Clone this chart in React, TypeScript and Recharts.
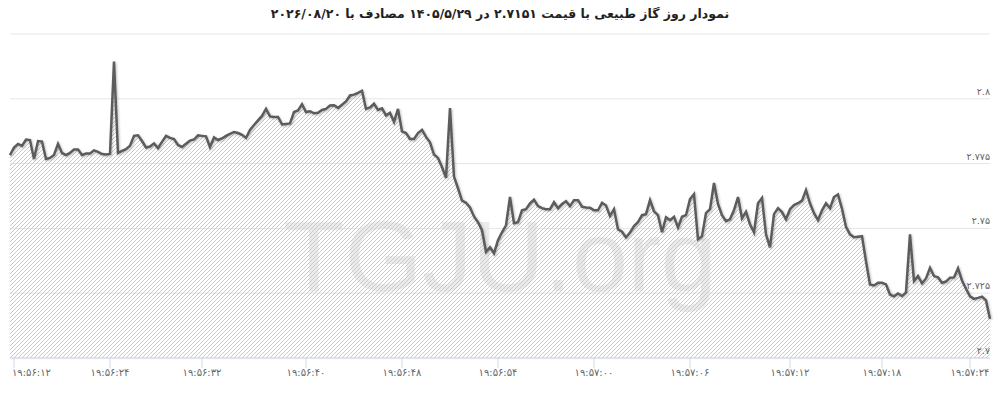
import React from 'react';
import { ComposedChart, Area, Line, XAxis, YAxis, CartesianGrid } from 'recharts';

const titleText = 'نمودار روز گاز طبیعی با قیمت ۲.۷۱۵۱ در ۱۴۰۵/۵/۲۹ مصادف با ۲۰۲۶/۰۸/۲۰';

// price samples, read left to right off the chart
const prices = [
  2.7783, 2.7812, 2.7826, 2.7818, 2.7843, 2.7841, 2.7768, 2.7837, 2.7835, 2.7768,
  2.7772, 2.7783, 2.7826, 2.7791, 2.7783, 2.7791, 2.7804, 2.7804, 2.7783, 2.7789,
  2.7789, 2.7801, 2.7795, 2.7787, 2.7785, 2.7787, 2.8144, 2.7791, 2.7799, 2.7806,
  2.7819, 2.7857, 2.7859, 2.7837, 2.7812, 2.7816, 2.7828, 2.7810, 2.7834, 2.7857,
  2.7849, 2.7845, 2.7822, 2.7814, 2.7827, 2.7839, 2.7843, 2.7859, 2.7857, 2.7855,
  2.7814, 2.7851, 2.7841, 2.7847, 2.7857, 2.7865, 2.7872, 2.7868, 2.7861, 2.7849,
  2.7880, 2.7899, 2.7917, 2.7934, 2.7961, 2.7932, 2.7930, 2.7930, 2.7901, 2.7903,
  2.7905, 2.7949, 2.7955, 2.7979, 2.7949, 2.7952, 2.7944, 2.7946, 2.7957, 2.7961,
  2.7974, 2.7975, 2.7965, 2.7977, 2.7990, 2.8013, 2.8016, 2.8023, 2.8031, 2.7961,
  2.7967, 2.7981, 2.7957, 2.7963, 2.7936, 2.7946, 2.7911, 2.7961, 2.7874, 2.7868,
  2.7845, 2.7845, 2.7868, 2.7880, 2.7853, 2.7832, 2.7785, 2.7772, 2.7737, 2.7695,
  2.7964, 2.7700, 2.7655, 2.7607, 2.7599, 2.7581, 2.7546, 2.7524, 2.7493, 2.7410,
  2.7427, 2.7404, 2.7454, 2.7485, 2.7512, 2.7621, 2.7520, 2.7524, 2.7570, 2.7574,
  2.7597, 2.7611, 2.7586, 2.7578, 2.7574, 2.7574, 2.7601, 2.7578, 2.7594, 2.7605,
  2.7586, 2.7609, 2.7609, 2.7584, 2.7581, 2.7580, 2.7570, 2.7570, 2.7599, 2.7588,
  2.7548, 2.7574, 2.7497, 2.7487, 2.7465, 2.7484, 2.7509, 2.7524, 2.7551, 2.7555,
  2.7609, 2.7566, 2.7551, 2.7485, 2.7543, 2.7532, 2.7545, 2.7504, 2.7545, 2.7551,
  2.7613, 2.7632, 2.7458, 2.7470, 2.7559, 2.7574, 2.7675, 2.7594, 2.7551, 2.7528,
  2.7535, 2.7571, 2.7621, 2.7539, 2.7564, 2.7516, 2.7485, 2.7597, 2.7617, 2.7477,
  2.7427, 2.7555, 2.7578, 2.7563, 2.7535, 2.7574, 2.7590, 2.7597, 2.7607, 2.7648,
  2.7597, 2.7559, 2.7532, 2.7570, 2.7597, 2.7578, 2.7621, 2.7631, 2.7576, 2.7506,
  2.7477, 2.7466, 2.7468, 2.7470, 2.7373, 2.7284, 2.7280, 2.7290, 2.7290, 2.7284,
  2.7245, 2.7238, 2.7249, 2.7239, 2.7253, 2.7477, 2.7297, 2.7316, 2.7288, 2.7307,
  2.7348, 2.7316, 2.7311, 2.7290, 2.7295, 2.7310, 2.7311, 2.7346, 2.7299, 2.7267,
  2.7238, 2.7228, 2.7232, 2.7237, 2.7222, 2.7151,
];

// positions (sample index) of the time labels on the x axis
const timeTickIndex = [1, 25, 48, 74, 98, 122, 146, 170, 195, 218, 240];
const timeTickLabels = [
  '۱۹:۵۶:۱۲', '۱۹:۵۶:۲۴', '۱۹:۵۶:۳۲', '۱۹:۵۶:۴۰', '۱۹:۵۶:۴۸', '۱۹:۵۶:۵۴',
  '۱۹:۵۷:۰۰', '۱۹:۵۷:۰۶', '۱۹:۵۷:۱۲', '۱۹:۵۷:۱۸', '۱۹:۵۷:۲۴',
];

const priceTicks = [2.7, 2.725, 2.75, 2.775, 2.8, 2.825];
const priceTickLabels = ['۲.۷', '۲.۷۲۵', '۲.۷۵', '۲.۷۷۵', '۲.۸', ''];

const data = prices.map((p, i) => ({ i, p }));

const FONT = '"DejaVu Sans", sans-serif';

const TimeTick = ({ x, y, payload, index }: any) => {
  const label = timeTickLabels[timeTickIndex.indexOf(payload.value)];
  return (
    <text
      x={index === 0 ? x - 2 : x}
      y={y + 6}
      textAnchor={index === 0 ? 'start' : 'middle'}
      fontSize={10}
      fontFamily={FONT}
      fill="#666"
    >
      {label}
    </text>
  );
};

const PriceTick = ({ x, y, payload }: any) => {
  const label = priceTickLabels[priceTicks.indexOf(payload.value)];
  return (
    <text x={x} y={y - 4} textAnchor="end" fontSize={9.5} fontFamily={FONT} fill="#666">
      {label}
    </text>
  );
};

export default function App() {
  return (
    <div style={{ position: 'absolute', left: 0, top: 0, width: 1000, height: 400, background: '#fff', overflow: 'hidden' }}>
      <div
        style={{
          position: 'absolute', left: 0, right: 0, top: 4, textAlign: 'center', direction: 'rtl',
          fontFamily: FONT, fontWeight: 'bold', fontSize: 12.5, color: '#222', lineHeight: '20px',
        }}
      >
        {titleText}
      </div>
      <div
        style={{
          position: 'absolute', left: 0, width: 1000, top: 196, textAlign: 'center',
          fontFamily: '"Liberation Sans", Arial, sans-serif', fontSize: 100, lineHeight: '120px', color: '#ebebeb',
        }}
      >
        TGJU.org
      </div>
      <div style={{ position: 'absolute', left: 0, top: 0 }}>
        <ComposedChart width={1000} height={400} data={data} margin={{ top: 34, right: 9, bottom: 12, left: 10 }}>
          <defs>
            <pattern id="hatch" patternUnits="userSpaceOnUse" width={4} height={4}>
              <path d="M-1,1 l2,-2 M0,4 l4,-4 M3,5 l2,-2" stroke="#cacaca" strokeWidth={1} />
            </pattern>
            <filter id="lineShadow" x="-5%" y="-5%" width="110%" height="120%">
              <feDropShadow dx={1} dy={1} stdDeviation={1} floodColor="#000" floodOpacity={0.25} />
            </filter>
          </defs>
          <CartesianGrid vertical={false} stroke="#e6e6e6" />
          <XAxis
            dataKey="i"
            type="number"
            domain={[0, prices.length - 1]}
            ticks={timeTickIndex}
            interval={0}
            height={30}
            axisLine={{ stroke: '#ccd6eb' }}
            tickLine={{ stroke: '#ccd6eb' }}
            tickSize={10}
            tick={<TimeTick />}
          />
          <YAxis
            orientation="right"
            width={1}
            domain={[2.7, 2.825]}
            ticks={priceTicks}
            interval={0}
            axisLine={false}
            tickLine={false}
            tickSize={0}
            tickMargin={0}
            tick={<PriceTick />}
          />
          <Area
            type="linear"
            dataKey="p"
            stroke="none"
            fill="url(#hatch)"
            fillOpacity={1}
            baseValue={2.7}
            isAnimationActive={false}
            activeDot={false}
          />
          <Line
            type="linear"
            dataKey="p"
            stroke="#5c5c5c"
            strokeWidth={2.5}
            dot={false}
            activeDot={false}
            filter="url(#lineShadow)"
            isAnimationActive={false}
          />
        </ComposedChart>
      </div>
    </div>
  );
}
